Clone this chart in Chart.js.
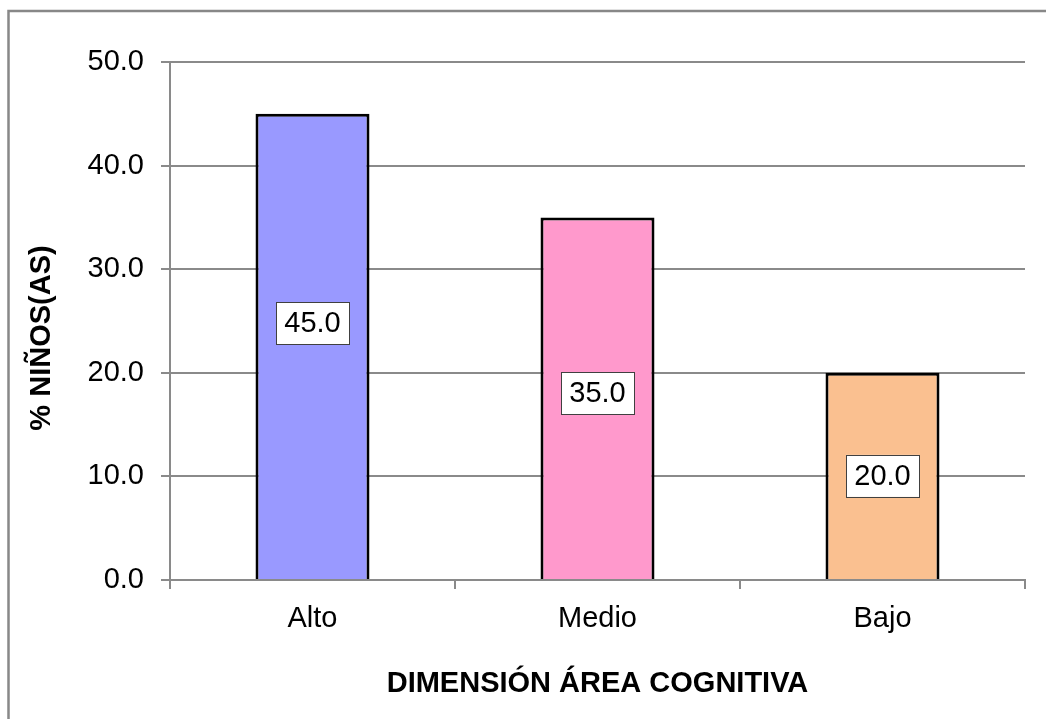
<!DOCTYPE html>
<html>
<head>
<meta charset="utf-8">
<script src="https://cdn.jsdelivr.net/npm/chart.js@4/dist/chart.umd.min.js"></script>
<style>
  html, body { margin: 0; padding: 0; background: #ffffff; }
  #wrap { width: 1046px; height: 719px; position: relative; }
</style>
</head>
<body>
<div id="wrap"><canvas id="chart" width="1046" height="719"></canvas></div>
<script>
// Categories and percentages
const categories = ['Alto', 'Medio', 'Bajo'];
const percentages = [45.0, 35.0, 20.0];
const barColors = ['#9999FF', '#FF99CC', '#FAC090'];
const yTicks = [0, 10, 20, 30, 40, 50];
const xTitle = 'DIMENSIÓN ÁREA COGNITIVA';
const yTitle = '% NIÑOS(AS)';

const FONT = "'Liberation Sans', Arial, Helvetica, sans-serif";
const FS = 29;
const GRID = '#8a8a8a';

// Outer frame of the chart object
const framePlugin = {
  id: 'frame',
  beforeDraw(chart) {
    const ctx = chart.ctx;
    ctx.save();
    ctx.fillStyle = '#ffffff';
    ctx.fillRect(0, 0, chart.width, chart.height);
    ctx.strokeStyle = '#888888';
    ctx.lineWidth = 2.5;
    ctx.strokeRect(8.5, 11, 3000, 3000);
    ctx.restore();
  }
};

// Boxed value labels inside the bars, plus the rotated y-axis title
const valueBoxPlugin = {
  id: 'valueBoxes',
  afterDatasetsDraw(chart, args, opts) {
    const ctx = chart.ctx;
    const meta = chart.getDatasetMeta(0);
    ctx.save();
    ctx.font = `${FS}px ${FONT}`;
    ctx.textAlign = 'center';
    ctx.textBaseline = 'middle';
    meta.data.forEach((bar, i) => {
      const v = chart.data.datasets[0].data[i];
      const txt = v.toFixed(1);
      const cx = bar.x;
      const cy = (bar.y + bar.base) / 2 + (opts.nudge[i] || 0);
      const w = 73, h = 42;
      ctx.fillStyle = '#ffffff';
      ctx.fillRect(cx - w / 2, cy - h / 2, w, h);
      ctx.strokeStyle = '#404040';
      ctx.lineWidth = 1;
      ctx.strokeRect(Math.round(cx - w / 2) + 0.5, Math.round(cy - h / 2) + 0.5, w, h);
      ctx.fillStyle = '#000000';
      ctx.fillText(txt, cx, cy + 1);
    });
    ctx.restore();

    ctx.save();
    ctx.font = `bold ${FS}px ${FONT}`;
    ctx.fillStyle = '#000000';
    ctx.textAlign = 'center';
    ctx.textBaseline = 'middle';
    ctx.translate(42, 338);
    ctx.rotate(-Math.PI / 2);
    ctx.fillText(yTitle, 0, 0);
    ctx.restore();
  }
};

new Chart(document.getElementById('chart'), {
  type: 'bar',
  data: {
    labels: categories,
    datasets: [{
      data: percentages,
      backgroundColor: barColors,
      borderColor: '#000000',
      borderWidth: 3,
      borderSkipped: 'bottom',
      categoryPercentage: 1.0,
      barPercentage: 0.4
    }]
  },
  plugins: [framePlugin, valueBoxPlugin],
  options: {
    responsive: false,
    animation: false,
    events: [],
    layout: { padding: { left: 0, top: 62, right: 21, bottom: 0 } },
    plugins: {
      legend: { display: false },
      tooltip: { enabled: false },
      valueBoxes: { nudge: [-23, -5, 0] }
    },
    scales: {
      x: {
        afterFit(scale) { scale.height = 139; },
        grid: {
          offset: true,
          drawOnChartArea: false,
          drawTicks: true,
          tickLength: 9,
          color: GRID,
          lineWidth: 2
        },
        border: { color: GRID, width: 2 },
        ticks: {
          color: '#000000',
          font: { family: FONT, size: FS },
          padding: 13
        },
        title: {
          display: true,
          text: xTitle,
          color: '#000000',
          font: { family: FONT, size: FS, weight: 'bold' },
          padding: { top: 0, bottom: 18 }
        }
      },
      y: {
        min: 0,
        max: 50,
        afterFit(scale) { scale.width = 170; },
        afterBuildTicks(scale) { scale.ticks = yTicks.map(v => ({ value: v })); },
        grid: {
          color: GRID,
          lineWidth: 2,
          drawTicks: true,
          tickLength: 9
        },
        border: { color: GRID, width: 2 },
        ticks: {
          color: '#000000',
          font: { family: FONT, size: FS },
          padding: 17,
          callback: v => Number(v).toFixed(1)
        }
      }
    }
  }
});
</script>
</body>
</html>
